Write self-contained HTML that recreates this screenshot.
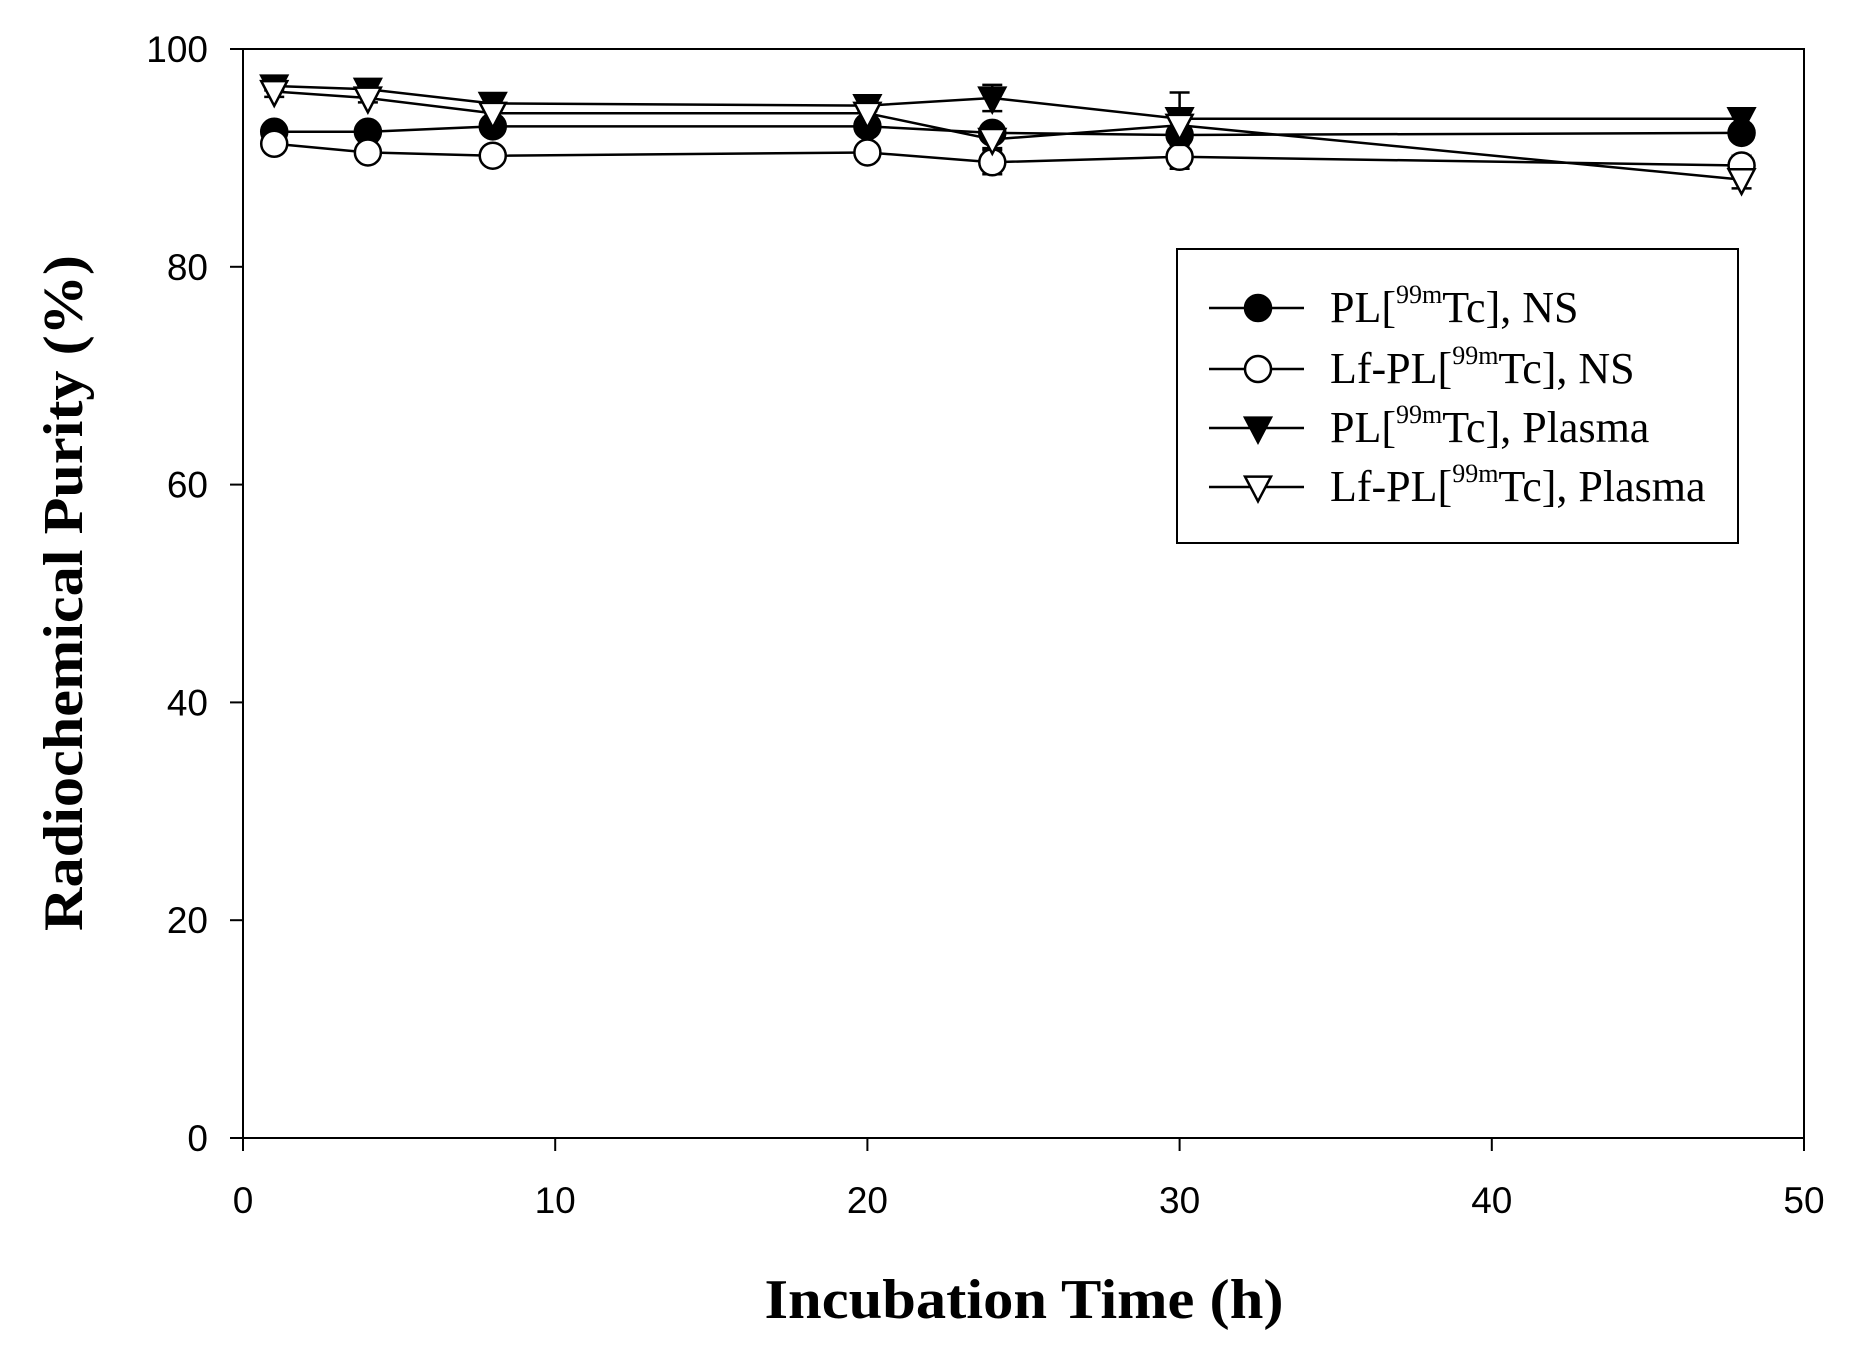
<!DOCTYPE html>
<html><head><meta charset="utf-8"><style>body{margin:0;background:#fff}svg{display:block}</style></head>
<body>
<svg id="chart" width="1859" height="1358" xmlns="http://www.w3.org/2000/svg">
<g id="axes"></g><g id="series"></g>
<g>
<rect x="1177" y="249" width="561" height="294" fill="#fff" stroke="#000" stroke-width="2"/>
<g id="legend-items"></g>
</g>
<text transform="translate(82,593) rotate(-90)" text-anchor="middle" font-family="Liberation Serif, serif" font-weight="bold" font-size="56" textLength="676" lengthAdjust="spacingAndGlyphs">Radiochemical Purity (%)</text>
<text x="1024" y="1318" text-anchor="middle" font-family="Liberation Serif, serif" font-weight="bold" font-size="56" textLength="519" lengthAdjust="spacingAndGlyphs">Incubation Time (h)</text>
</svg>
<script>
const times = [1, 4, 8, 20, 24, 30, 48];
const plNS = [92.4, 92.4, 92.9, 92.9, 92.3, 92.1, 92.3];
const plNSErr = [0.4, 0.4, 0.4, 0.4, 0.5, 0.5, 0.6];
const lfNS = [91.3, 90.5, 90.2, 90.5, 89.6, 90.1, 89.3];
const lfNSErr = [0.8, 0.4, 0.4, 0.4, 1.1, 1.1, 0.9];
const plPl = [96.6, 96.3, 95.0, 94.8, 95.5, 93.6, 93.6];
const plPlErr = [0.4, 0.4, 0.5, 0.5, 1.2, 2.4, 0.5];
const lfPl = [96.1, 95.5, 94.1, 94.1, 91.7, 93.0, 88.0];
const lfPlErr = [0.5, 0.4, 0.4, 0.4, 0.8, 0.6, 0.8];
const xTicks = [0, 10, 20, 30, 40, 50];
const yTicks = [0, 20, 40, 60, 80, 100];
const legendLabels = ["PL[", "Lf-PL[", "PL[", "Lf-PL["];
const legendSuffix = ["Tc], NS", "Tc], NS", "Tc], Plasma", "Tc], Plasma"];

const NS = "http://www.w3.org/2000/svg";
const X0 = 243, X1 = 1804, Y0 = 1138, Y1 = 49;
const xs = v => X0 + (v / 50) * (X1 - X0);
const ys = v => Y0 - (v / 100) * (Y0 - Y1);
function mk(tag, attrs, parent) {
  const e = document.createElementNS(NS, tag);
  for (const k in attrs) e.setAttribute(k, attrs[k]);
  parent.appendChild(e);
  return e;
}
const axes = document.getElementById('axes');
const frame = mk('rect', {x: X0, y: Y1, width: X1 - X0, height: Y0 - Y1, fill: 'none', stroke: '#000', 'stroke-width': 2}, axes);


xTicks.forEach(t => {
  const l = mk('line', {x1: xs(t), x2: xs(t), y1: Y0, y2: Y0 + 13, stroke: '#000', 'stroke-width': 2}, axes);
  
  
  const tx = mk('text', {x: xs(t), y: Y0 + 75, 'text-anchor': 'middle', 'font-family': 'Liberation Sans, sans-serif', 'font-size': 37}, axes);
  tx.textContent = t;
  
  
});
yTicks.forEach(t => {
  const l = mk('line', {x1: X0 - 13, x2: X0, y1: ys(t), y2: ys(t), stroke: '#000', 'stroke-width': 2}, axes);
  
  
  const tx = mk('text', {x: X0 - 35, y: ys(t) + 13, 'text-anchor': 'end', 'font-family': 'Liberation Sans, sans-serif', 'font-size': 37}, axes);
  tx.textContent = t;
  
  
});
function marker(kind, cx, cy, parent) {
  const r = 13;
  const fill = (kind === 'fc' || kind === 'ft') ? '#000' : '#fff';
  if (kind === 'fc' || kind === 'oc') return mk('circle', {cx, cy, r, fill, stroke: '#000', 'stroke-width': 2.5}, parent);
  return mk('polygon', {points: `${cx - r},${cy - r * 0.8} ${cx + r},${cy - r * 0.8} ${cx},${cy + r * 1.1}`, fill, stroke: '#000', 'stroke-width': 2.5}, parent);
}
const series = [
  {name: 'pl-ns', vals: plNS, err: plNSErr, kind: 'fc'},
  {name: 'lf-pl-ns', vals: lfNS, err: lfNSErr, kind: 'oc'},
  {name: 'pl-plasma', vals: plPl, err: plPlErr, kind: 'ft'},
  {name: 'lf-pl-plasma', vals: lfPl, err: lfPlErr, kind: 'ot'}
];
const sg = document.getElementById('series');
series.forEach(s => {
  const g = mk('g', {}, sg);
  
  
  s.vals.forEach((v, i) => {
    const x = xs(times[i]);
    const e = mk('path', {d: `M${x},${ys(v + s.err[i])}V${ys(v - s.err[i])}M${x - 10},${ys(v + s.err[i])}H${x + 10}M${x - 10},${ys(v - s.err[i])}H${x + 10}`, stroke: '#000', 'stroke-width': 2.5, fill: 'none'}, g);
    
    
  });
  const pl = mk('polyline', {points: s.vals.map((v, i) => xs(times[i]) + ',' + ys(v)).join(' '), fill: 'none', stroke: '#000', 'stroke-width': 2.5}, g);
  
  
  s.vals.forEach((v, i) => {
    const m = marker(s.kind, xs(times[i]), ys(v), g);
    
    
  });
});
const li = document.getElementById('legend-items');
const ly = [308, 369, 428, 487];
series.forEach((s, i) => {
  const g = mk('g', {}, li);
  
  
  mk('line', {x1: 1209, x2: 1304, y1: ly[i], y2: ly[i], stroke: '#000', 'stroke-width': 2.5}, g);
  marker(s.kind, 1258, ly[i], g);
  const t = mk('text', {x: 1330, y: ly[i] + 14, 'font-family': 'Liberation Serif, serif', 'font-size': 44}, g);
  t.appendChild(document.createTextNode(legendLabels[i]));
  const sup = mk('tspan', {'font-size': 26, dy: -19}, t);
  sup.textContent = '99m';
  const rest = mk('tspan', {dy: 19}, t);
  rest.textContent = legendSuffix[i];
});
</script>
</body></html>
